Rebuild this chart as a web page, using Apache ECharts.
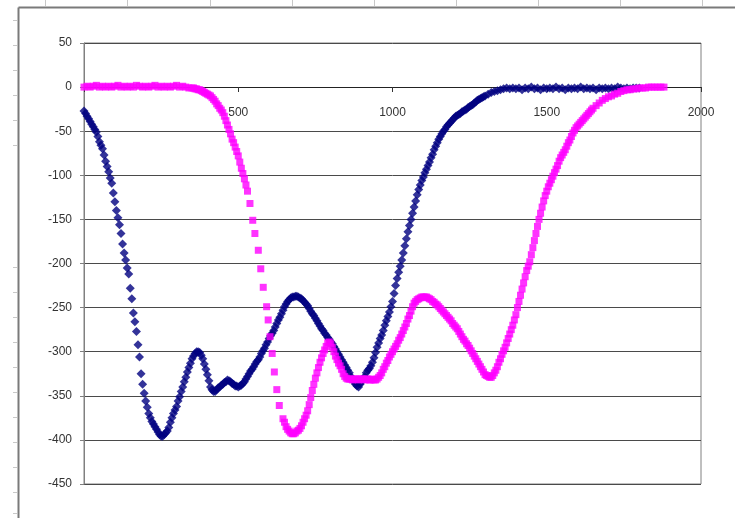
<!DOCTYPE html>
<html>
<head>
<meta charset="utf-8">
<script src="https://cdn.jsdelivr.net/npm/echarts@6/dist/echarts.min.js"></script>
<style>
html,body{margin:0;padding:0;background:#fff;}
#chart{width:735px;height:518px;}
</style>
</head>
<body>
<div id="chart"></div>
<script>
// Navy diamond series: x positions and values
var navyX = [
0,5,10,15,20,25,30,35,40,45,50,55,60,65,70,75,80,85,90,95,
100,105,110,115,120,125,130,135,140,145,150,155,160,165,170,175,180,185,190,195,
200,205,210,215,220,225,230,235,240,245,250,255,260,265,270,275,280,285,290,295,
300,305,310,315,320,325,330,335,340,345,350,355,360,365,370,375,380,385,390,395,
400,405,410,415,420,425,430,435,440,445,450,455,460,465,470,475,480,485,490,495,
500,505,510,515,520,525,530,535,540,545,550,555,560,565,570,575,580,585,590,595,
600,605,610,615,620,625,630,635,640,645,650,655,660,665,670,675,680,685,690,695,
700,705,710,715,720,725,730,735,740,745,750,755,760,765,770,775,780,785,790,795,
800,805,810,815,820,825,830,835,840,845,850,855,860,865,870,875,880,885,890,895,
900,905,910,915,920,925,930,935,940,945,950,955,960,965,970,975,980,985,990,995,
1000,1005,1010,1015,1020,1025,1030,1035,1040,1045,1050,1055,1060,1065,1070,1075,1080,1085,1090,1095,
1100,1105,1110,1115,1120,1125,1130,1135,1140,1145,1150,1155,1160,1165,1170,1175,1180,1185,1190,1195,
1200,1205,1210,1215,1220,1225,1230,1235,1240,1245,1250,1255,1260,1265,1270,1275,1280,1285,1290,1295,
1300,1310,1320,1330,1340,1350,1360,1370,1380,1390,
1400,1410,1420,1430,1440,1450,1460,1470,1480,1490,
1500,1510,1520,1530,1540,1550,1560,1570,1580,1590,
1600,1610,1620,1630,1640,1650,1660,1670,1680,1690,
1700,1710,1720,1730,1740,1750,1760,1770,1780,1790,
1800
];
var navyY = [
-27,-30,-33,-36,-39,-42,-45,-48,-51,-56,-62,-66,-70,-77,-84,-90,-96,-103,-109,-120,
-130,-140,-148,-156,-166,-178,-188,-196,-205,-212,-228,-240,-256,-266,-277,-292,-306,-325,-337,-347,
-356,-363,-370,-375,-379,-382,-385,-388,-391,-394,-396,-396,-394,-392,-390,-386,-380,-375,-370,-366,
-362,-356,-351,-345,-340,-334,-329,-323,-318,-313,-308,-305,-302,-300,-300,-301,-304,-308,-314,-320,
-326,-333,-340,-343,-345,-345,-343,-341,-340,-338,-337,-335,-334,-332,-333,-334,-336,-337,-339,-339,
-340,-339,-338,-336,-334,-331,-328,-325,-322,-320,-317,-314,-311,-309,-306,-302,-299,-296,-292,-289,
-285,-282,-279,-276,-272,-268,-264,-261,-257,-253,-249,-246,-243,-241,-239,-238,-238,-237,-237,-238,
-239,-240,-242,-244,-246,-248,-251,-254,-257,-259,-262,-265,-268,-271,-274,-276,-279,-281,-284,-286,
-289,-291,-294,-297,-300,-303,-306,-309,-312,-315,-318,-321,-324,-328,-331,-334,-337,-339,-340,-337,
-334,-331,-328,-324,-321,-319,-316,-312,-307,-301,-295,-290,-285,-281,-276,-270,-265,-260,-255,-249,
-243,-234,-225,-217,-210,-203,-196,-188,-180,-172,-164,-157,-150,-143,-136,-129,-122,-116,-111,-106,
-102,-97,-93,-89,-85,-80,-76,-71,-67,-63,-59,-56,-53,-50,-48,-45,-43,-41,-39,-37,
-35,-33,-32,-31,-30,-28,-27,-26,-25,-23,-22,-21,-20,-18,-17,-15,-14,-13,-12,-11,
-10,-8,-6,-5,-4,-3,-2,-1,-2,-1,
-2,-1,-3,-1,-2,0,-2,-1,-3,-1,
-2,-1,-2,0,-2,-1,-3,-1,-2,-1,
-2,0,-2,-1,-2,-1,-3,-1,-2,-1,
-2,-1,-2,0,-1,-2,-1,-2,-1,-1,
-1
];

// Magenta square series: x positions and values
var magentaX = [
0,10,20,30,40,50,60,70,80,90,
100,110,120,130,140,150,160,170,180,190,
200,210,220,230,240,250,260,270,280,290,
300,310,320,330,340,
350,355,360,365,370,375,380,385,390,395,
400,405,410,415,420,425,430,435,440,445,450,455,460,465,470,475,480,485,490,495,
500,505,510,515,520,525,530,
538,547,554,565,573,581,592,597,603,610,617,625,633,
645,650,655,660,665,670,675,680,685,690,695,
700,705,710,715,720,725,730,735,740,745,750,755,760,765,770,775,780,785,790,795,
800,805,810,815,820,825,830,835,840,845,850,855,860,865,870,875,880,885,890,895,
900,905,910,915,920,925,930,935,940,945,950,955,960,965,970,975,980,985,990,995,
1000,1005,1010,1015,1020,1025,1030,1035,1040,1045,1050,1055,1060,1065,1070,1075,1080,1085,1090,1095,
1100,1105,1110,1115,1120,1125,1130,1135,1140,1145,1150,1155,1160,1165,1170,1175,1180,1185,1190,1195,
1200,1205,1210,1215,1220,1225,1230,1235,1240,1245,1250,1255,1260,1265,1270,1275,1280,1285,1290,1295,
1300,1305,1310,1315,1320,1325,1330,1335,1340,1345,1350,1355,1360,1365,1370,1375,1380,1385,1390,1395,
1400,1405,1410,1415,1420,1425,1430,1435,1440,1445,1450,1455,1460,1465,1470,1475,1480,1485,1490,1495,
1500,1505,1510,1515,1520,1525,1530,1535,1540,1545,1550,1555,1560,1565,1570,1575,1580,1585,1590,1595,
1600,1605,1610,1615,1620,1625,1630,1635,1640,1645,1650,
1660,1670,1680,1690,1700,1710,1720,1730,1740,1750,1760,1770,1780,1790,
1800,1810,1820,1830,1840,1850,1860,1870,1880
];
var magentaY = [
0,1,0,1,2,0,1,0,1,0,
1,2,0,1,0,1,0,2,1,0,
1,0,1,2,0,1,0,1,0,1,
2,0,1,0,-1,
-1,-1,-2,-2,-3,-3,-4,-5,-6,-7,
-8,-9,-10,-12,-14,-16,-19,-21,-24,-26,-29,-33,-38,-43,-48,-53,-59,-63,-68,-73,
-78,-85,-92,-98,-104,-111,-118,
-132,-151,-166,-185,-206,-227,-249,-264,-283,-302,-323,-343,-361,
-376,-380,-385,-388,-390,-392,-393,-393,-392,-390,-389,
-387,-384,-380,-376,-372,-367,-360,-352,-344,-337,-330,-324,-318,-312,-307,-302,-298,-294,-290,-289,
-291,-295,-300,-305,-309,-313,-316,-320,-325,-328,-330,-331,-331,-331,-332,-331,-331,-331,-332,-331,
-331,-331,-332,-331,-331,-332,-332,-331,-332,-332,-331,-329,-327,-324,-320,-317,-313,-310,-306,-303,
-300,-297,-294,-291,-287,-284,-280,-276,-272,-268,-263,-259,-254,-249,-245,-243,-241,-240,-239,-238,
-238,-238,-238,-239,-240,-241,-243,-244,-246,-247,-249,-251,-253,-255,-257,-259,-261,-263,-265,-268,
-270,-272,-274,-277,-280,-283,-286,-288,-291,-293,-296,-299,-302,-305,-308,-311,-314,-317,-320,-323,
-326,-327,-328,-329,-329,-327,-324,-321,-317,-312,-308,-303,-299,-295,-290,-285,-280,-275,-270,-264,
-258,-250,-243,-236,-229,-222,-215,-208,-203,-198,-190,-182,-174,-166,-158,-150,-143,-136,-129,-123,
-118,-113,-109,-105,-101,-97,-93,-89,-84,-80,-77,-74,-71,-67,-63,-60,-56,-52,-49,-46,
-44,-42,-40,-38,-36,-34,-32,-30,-28,-26,-24,
-21,-18,-15,-13,-11,-10,-8,-7,-5,-4,-3,-3,-2,-2,
-1,-1,-1,0,0,0,0,0,0
];

var xTicks = [0, 500, 1000, 1500, 2000];
var yTicks = [50, 0, -50, -100, -150, -200, -250, -300, -350, -400, -450];

function pairs(xs, ys) {
  var out = [];
  for (var i = 0; i < ys.length; i++) out.push([xs[i], ys[i]]);
  return out;
}

var graphics = [];
graphics.push({type:'line', shape:{x1:18.5,y1:7.5,x2:735,y2:7.5}, style:{stroke:'#7a7a7a', lineWidth:2}, silent:true});
graphics.push({type:'line', shape:{x1:18.5,y1:7.5,x2:18.5,y2:518}, style:{stroke:'#7a7a7a', lineWidth:2}, silent:true});
[45,127,210,292,374,456,538,620,702].forEach(function(x){
  graphics.push({type:'line', shape:{x1:x+0.5,y1:0,x2:x+0.5,y2:6}, style:{stroke:'#c8c8c8', lineWidth:1}, silent:true});
});
[20,45,70,95,120,145,267,292,317,342,367,392,417,442,467,492,513].forEach(function(y){
  graphics.push({type:'line', shape:{x1:13,y1:y+0.5,x2:17,y2:y+0.5}, style:{stroke:'#c8c8c8', lineWidth:1}, silent:true});
});

var chart = echarts.init(document.getElementById('chart'), null, {renderer:'canvas'});
chart.setOption({
  animation: false,
  backgroundColor: '#ffffff',
  textStyle: {fontFamily: 'Liberation Sans, Arial, sans-serif'},
  grid: {left: 84, right: 34, top: 43, bottom: 34, show: true, borderColor: '#808080', borderWidth: 1, backgroundColor: 'transparent'},
  xAxis: {
    type: 'value', position: 'bottom', offset: -397,
    min: xTicks[0], max: xTicks[xTicks.length-1], interval: 500,
    axisLine: {onZero: false, lineStyle: {color: '#222', width: 1}},
    axisTick: {show: true, length: 5, lineStyle: {color: '#333'}},
    axisLabel: {margin: 20, color: '#333', fontSize: 12,
      formatter: function(v){ return v === 0 ? '' : String(v); }},
    splitLine: {show: false}
  },
  yAxis: {
    type: 'value',
    min: yTicks[yTicks.length-1], max: yTicks[0], interval: 50,
    axisLine: {show: true, onZero: false, lineStyle: {color: '#808080', width: 1}},
    axisTick: {show: true, length: 4, lineStyle: {color: '#808080'}},
    axisLabel: {margin: 12, color: '#333', fontSize: 12},
    splitLine: {show: true, lineStyle: {color: '#4a4a4a', width: 1}}
  },
  series: [
    {type: 'scatter', name: 'navy', data: pairs(navyX, navyY), symbol: 'diamond', symbolSize: 9,
     itemStyle: {color: '#000080'}, z: 2},
    {type: 'scatter', name: 'magenta', data: pairs(magentaX, magentaY), symbol: 'rect', symbolSize: 7,
     itemStyle: {color: '#ff00ff'}, z: 3}
  ],
  graphic: graphics
});
</script>
</body>
</html>
